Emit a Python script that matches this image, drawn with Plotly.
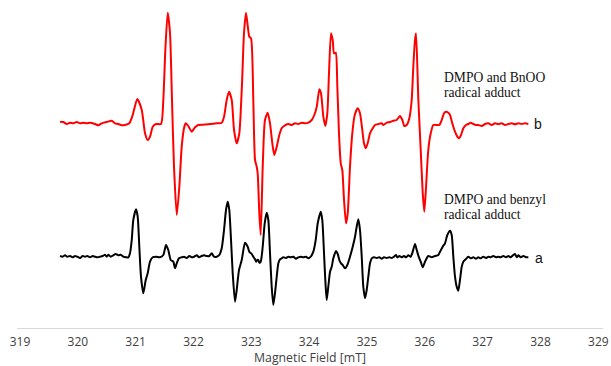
import plotly.graph_objects as go

# ---- data ----
field_ticks = [319, 320, 321, 322, 323, 324, 325, 326, 327, 328, 329]
tick_labels = [str(v) for v in field_ticks]

# spectrum b : DMPO + BnOO radical adduct (red)
red_field = [319.692, 319.749, 319.808, 319.865, 319.922, 319.980, 320.038, 320.095, 320.153, 320.211,
             320.297, 320.354, 320.413, 320.499, 320.586, 320.643, 320.700, 320.759, 320.816, 320.890,
             320.949, 321.028, 321.105, 321.162, 321.208, 321.248, 321.295, 321.352, 321.438, 321.478,
             321.513, 321.554, 321.594, 321.628, 321.663, 321.710, 321.755, 321.796, 321.836, 321.865,
             321.910, 321.969, 322.026, 322.083, 322.170, 322.286, 322.401, 322.488, 322.528, 322.574,
             322.614, 322.661, 322.701, 322.747, 322.792, 322.839, 322.873, 322.908, 322.965, 322.995,
             323.034, 323.064, 323.093, 323.110, 323.138, 323.162, 323.197, 323.236, 323.283, 323.323,
             323.363, 323.397, 323.439, 323.484, 323.525, 323.565, 323.639, 323.698, 323.755, 323.812,
             323.871, 323.928, 323.985, 324.044, 324.089, 324.131, 324.176, 324.205, 324.245, 324.279,
             324.314, 324.343, 324.378, 324.407, 324.430, 324.459, 324.487, 324.516, 324.546, 324.573,
             324.603, 324.637, 324.667, 324.706, 324.746, 324.788, 324.840, 324.879, 324.919, 324.948,
             324.978, 325.012, 325.052, 325.099, 325.139, 325.196, 325.255, 325.282, 325.341, 325.398,
             325.455, 325.514, 325.571, 325.611, 325.645, 325.687, 325.732, 325.773, 325.801, 325.830,
             325.848, 325.888, 325.929, 325.964, 325.991, 326.021, 326.060, 326.102, 326.147, 326.206,
             326.251, 326.292, 326.332, 326.366, 326.406, 326.436, 326.475, 326.522, 326.562, 326.591,
             326.626, 326.666, 326.712, 326.752, 326.794, 326.838, 326.885, 326.925, 326.984, 327.041,
             327.098, 327.157, 327.214, 327.271, 327.329, 327.387, 327.444, 327.502, 327.560, 327.617,
             327.675, 327.733, 327.790]
red_intensity = [0.023, 0.020, 0.000, 0.013, 0.007, 0.020, 0.007, 0.013, 0.007, 0.013,
                 0.000, -0.013, 0.007, 0.020, 0.033, 0.007, 0.000, -0.013, -0.010, 0.007,
                 0.090, 0.250, 0.140, -0.093, -0.160, -0.127, -0.027, 0.000, 0.000, 0.240,
                 0.740, 1.113, 0.907, 0.240, -0.427, -0.910, -0.627, -0.227, -0.043, 0.007,
                 -0.020, -0.077, -0.033, -0.010, -0.007, 0.000, 0.007, 0.013, 0.073, 0.240,
                 0.323, 0.240, -0.060, -0.193, -0.093, 0.407, 0.907, 1.113, 0.873, 0.857,
                 0.240, -0.360, -0.427, -0.493, -0.893, -1.110, -0.427, 0.040, 0.113, 0.007,
                 -0.193, -0.310, -0.227, -0.110, -0.043, -0.020, 0.000, -0.010, 0.007, 0.000,
                 0.013, 0.007, 0.013, 0.040, 0.090, 0.173, 0.347, 0.307, 0.073, -0.020,
                 0.107, 0.507, 0.907, 0.840, 0.707, 0.713, 0.373, -0.093, -0.393, -0.460,
                 -0.760, -0.993, -0.893, -0.427, -0.093, 0.090, 0.157, 0.107, -0.060, -0.193,
                 -0.243, -0.193, -0.093, -0.043, -0.010, 0.000, 0.007, -0.010, 0.013, 0.020,
                 0.033, 0.040, 0.080, 0.040, -0.020, -0.010, 0.057, 0.240, 0.573, 0.840,
                 0.907, 0.240, -0.260, -0.693, -0.877, -0.627, -0.260, -0.093, -0.010, -0.010,
                 -0.010, 0.040, 0.107, 0.123, 0.113, 0.090, 0.007, -0.077, -0.127, -0.143,
                 -0.110, -0.043, -0.010, 0.000, 0.013, 0.000, -0.010, -0.010, -0.020, 0.000,
                 0.007, -0.010, 0.007, 0.000, 0.007, -0.010, 0.000, 0.007, -0.003, 0.007,
                 0.000, 0.007, 0.000]

# spectrum a : DMPO + benzyl radical adduct (black)
black_field = [319.692, 319.738, 319.778, 319.818, 319.865, 319.911, 319.951, 319.991, 320.038, 320.084,
               320.124, 320.164, 320.211, 320.257, 320.297, 320.344, 320.383, 320.430, 320.470, 320.499,
               320.527, 320.568, 320.613, 320.655, 320.700, 320.741, 320.786, 320.833, 320.873, 320.902,
               320.932, 320.959, 321.006, 321.035, 321.063, 321.092, 321.132, 321.174, 321.208, 321.248,
               321.295, 321.352, 321.421, 321.478, 321.525, 321.564, 321.606, 321.651, 321.680, 321.710,
               321.749, 321.796, 321.836, 321.883, 321.928, 321.969, 322.009, 322.056, 322.095, 322.142,
               322.182, 322.228, 322.273, 322.315, 322.355, 322.401, 322.446, 322.488, 322.528, 322.562,
               322.592, 322.619, 322.649, 322.678, 322.718, 322.747, 322.787, 322.834, 322.891, 322.937,
               322.965, 323.007, 323.034, 323.064, 323.081, 323.103, 323.121, 323.138, 323.162, 323.197,
               323.231, 323.266, 323.294, 323.323, 323.352, 323.380, 323.409, 323.439, 323.467, 323.496,
               323.525, 323.553, 323.600, 323.639, 323.681, 323.726, 323.773, 323.812, 323.854, 323.899,
               323.946, 323.985, 324.027, 324.072, 324.113, 324.148, 324.200, 324.227, 324.257, 324.279,
               324.303, 324.331, 324.361, 324.390, 324.418, 324.464, 324.494, 324.521, 324.551, 324.580,
               324.620, 324.660, 324.706, 324.753, 324.793, 324.822, 324.850, 324.879, 324.909, 324.936,
               324.966, 324.995, 325.023, 325.052, 325.082, 325.121, 325.168, 325.213, 325.255, 325.294,
               325.341, 325.386, 325.428, 325.467, 325.502, 325.524, 325.559, 325.600, 325.640, 325.675,
               325.715, 325.756, 325.791, 325.830, 325.860, 325.894, 325.929, 325.964, 326.003, 326.060,
               326.119, 326.176, 326.233, 326.263, 326.309, 326.349, 326.389, 326.436, 326.465, 326.493,
               326.522, 326.551, 326.579, 326.608, 326.638, 326.666, 326.707, 326.752, 326.794, 326.838,
               326.885, 326.925, 326.966, 327.011, 327.058, 327.098, 327.139, 327.184, 327.231, 327.271,
               327.312, 327.357, 327.404, 327.444, 327.485, 327.530, 327.560, 327.589, 327.617, 327.658,
               327.703, 327.750, 327.790]
black_intensity = [0.010, 0.003, 0.017, 0.003, 0.010, -0.003, 0.010, 0.003, -0.010, 0.010,
                   0.003, 0.010, -0.003, 0.010, 0.003, -0.003, 0.003, 0.010, 0.023, 0.003,
                   0.023, 0.003, 0.017, 0.030, 0.017, 0.023, 0.003, -0.003, -0.003, 0.037,
                   0.170, 0.370, 0.477, 0.403, 0.103, -0.197, -0.363, -0.230, -0.163, -0.047,
                   -0.003, 0.003, -0.003, 0.020, 0.120, 0.070, -0.030, -0.047, -0.113, -0.063,
                   -0.013, -0.003, 0.003, -0.010, 0.010, -0.003, 0.003, 0.017, -0.003, 0.010,
                   0.017, 0.010, 0.010, 0.037, 0.003, 0.003, 0.020, 0.087, 0.270, 0.470,
                   0.553, 0.470, 0.170, -0.163, -0.447, -0.330, -0.130, -0.030, 0.143, 0.103,
                   0.053, 0.030, 0.003, -0.023, -0.047, -0.030, -0.030, -0.057, -0.047, 0.103,
                   0.337, 0.443, 0.370, 0.037, -0.297, -0.480, -0.363, -0.197, -0.063, -0.023,
                   -0.013, -0.003, -0.010, 0.003, -0.003, 0.003, -0.017, -0.003, 0.003, -0.003,
                   0.003, -0.013, 0.003, 0.053, 0.170, 0.337, 0.453, 0.370, 0.037, -0.230,
                   -0.430, -0.297, -0.147, -0.097, -0.013, 0.060, 0.030, -0.030, -0.063, -0.080,
                   -0.113, -0.080, 0.003, 0.103, 0.203, 0.303, 0.377, 0.270, 0.003, -0.297,
                   -0.413, -0.330, -0.197, -0.063, -0.013, -0.003, -0.010, -0.003, -0.017, -0.003,
                   -0.010, -0.003, -0.010, 0.003, 0.020, -0.003, 0.010, -0.003, 0.010, -0.003,
                   0.017, 0.003, 0.053, 0.130, 0.070, 0.003, -0.047, -0.103, -0.047, 0.010,
                   -0.003, 0.010, 0.020, 0.053, 0.103, 0.137, 0.220, 0.263, 0.220, 0.003,
                   -0.197, -0.297, -0.337, -0.230, -0.097, -0.047, -0.023, 0.003, -0.013, -0.003,
                   -0.017, -0.003, -0.013, 0.003, -0.010, 0.003, -0.003, 0.010, -0.003, 0.003,
                   -0.003, 0.010, -0.003, 0.010, -0.003, 0.020, 0.030, -0.003, 0.017, -0.003,
                   0.010, -0.003, -0.003]

# ---- styling / stacking ----
RED_OFFSET = 2.04
BLACK_OFFSET = 0.71

fig = go.Figure()
fig.add_trace(go.Scatter(
    x=red_field, y=[v + RED_OFFSET for v in red_intensity],
    mode="lines", line=dict(color="#ff0000", width=2, shape="spline", smoothing=0.6),
    hoverinfo="skip", showlegend=False))
fig.add_trace(go.Scatter(
    x=black_field, y=[v + BLACK_OFFSET for v in black_intensity],
    mode="lines", line=dict(color="#000000", width=2, shape="spline", smoothing=0.6),
    hoverinfo="skip", showlegend=False))

serif = dict(family="Liberation Serif", size=13.6, color="#111111")
sans = dict(family="Liberation Sans", size=14, color="#111111")

annots = [
    dict(x=326.292, y=2.507, text="DMPO and BnOO", font=serif, xanchor="left", yanchor="middle"),
    dict(x=326.292, y=2.357, text="radical adduct", font=serif, xanchor="left", yanchor="middle"),
    dict(x=326.292, y=1.29, text="DMPO and benzyl", font=serif, xanchor="left", yanchor="middle"),
    dict(x=326.292, y=1.14, text="radical adduct", font=serif, xanchor="left", yanchor="middle"),
    dict(x=327.96, y=RED_OFFSET, text="b", font=sans, xanchor="center", yanchor="middle"),
    dict(x=327.98, y=BLACK_OFFSET - 0.01, text="a", font=sans, xanchor="center", yanchor="middle"),
]
for a in annots:
    fig.add_annotation(xref="x", yref="y", showarrow=False, **a)

fig.update_layout(
    width=611, height=366,
    margin=dict(l=17, r=8, t=5, b=38, autoexpand=False),
    paper_bgcolor="white", plot_bgcolor="white",
    xaxis=dict(
        range=[318.948, 329.081],
        automargin=False,
        tickmode="array", tickvals=field_ticks, ticktext=tick_labels,
        showline=True, linecolor="#d9d9d9", linewidth=1,
        showgrid=False, zeroline=False, ticks="",
        tickfont=dict(family="Open Sans", size=12, color="#404040"),
        ticklabelstandoff=3,
        title=dict(text="Magnetic Field [mT]", standoff=6,
                   font=dict(family="Open Sans", size=12.3, color="#404040")),
        fixedrange=True,
    ),
    yaxis=dict(range=[0, 3.23], visible=False, fixedrange=True, automargin=False),
)

# the page body has a default 8px margin; remove it so the figure sits at the window's origin
fig.write_html("out.html", config={"displayModeBar": False},
               post_script="document.body.style.margin='0px';")
